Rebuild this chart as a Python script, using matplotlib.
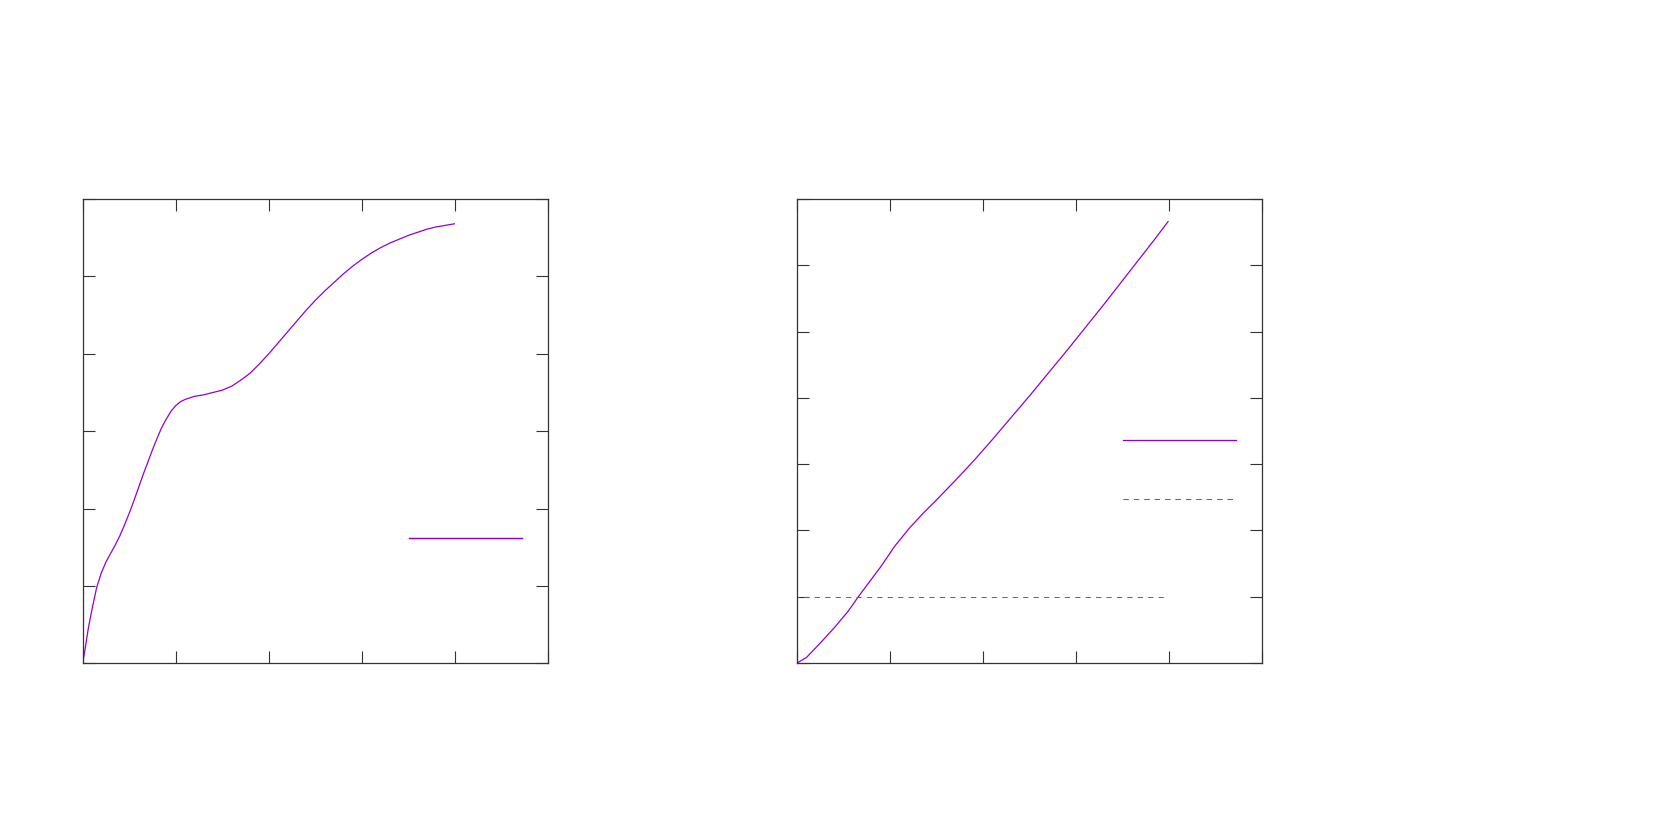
import numpy as np
from matplotlib import pyplot as plt

# ── Data ──────────────────────────────────────────────────────────────────────
# left panel: single curve
x_left = [0.0, 0.03, 0.06, 0.1, 0.15, 0.2, 0.25, 0.3, 0.35, 0.4, 0.45, 0.5,
          0.55, 0.6, 0.65, 0.7, 0.75, 0.8, 0.85, 0.9, 0.95, 1.0, 1.05, 1.1,
          1.15, 1.2, 1.3, 1.4, 1.5, 1.6, 1.7, 1.8, 1.9, 2.0, 2.1, 2.2, 2.3,
          2.4, 2.5, 2.6, 2.7, 2.8, 2.9, 3.0, 3.1, 3.2, 3.3, 3.4, 3.5, 3.6,
          3.7, 3.8, 3.9, 3.996]
y_left = [0.0, 0.22, 0.45, 0.70, 0.98, 1.17, 1.31, 1.42, 1.53, 1.65, 1.79, 1.94,
          2.10, 2.27, 2.44, 2.60, 2.76, 2.91, 3.05, 3.16, 3.26, 3.33, 3.38, 3.41,
          3.43, 3.45, 3.47, 3.50, 3.53, 3.58, 3.66, 3.75, 3.87, 4.00, 4.14, 4.28, 4.42,
          4.56, 4.69, 4.81, 4.92, 5.03, 5.13, 5.22, 5.30, 5.37, 5.43, 5.48, 5.53, 5.57,
          5.61, 5.64, 5.66, 5.68]

# right panel: curve + reference step
x_right = [0.0, 0.1, 0.25, 0.4, 0.55, 0.66, 0.75, 0.9, 1.05, 1.2, 1.35, 1.5,
           1.7, 1.9, 2.1, 2.3, 2.5, 2.7, 2.9, 3.1, 3.3, 3.5, 3.7, 3.85, 3.99]
y_right = [0.0, 0.08, 0.30, 0.53, 0.78, 1.00, 1.17, 1.45, 1.76, 2.02, 2.25, 2.46,
           2.75, 3.05, 3.37, 3.70, 4.03, 4.37, 4.71, 5.06, 5.41, 5.77, 6.13, 6.40, 6.66]
x_ref = [0.0, 0.0, 3.95]
y_ref = [0.0, 1.0, 1.0]

xticks_left = [0, 1, 2, 3, 4, 5]
yticks_left = [0, 1, 2, 3, 4, 5, 6]
xticks_right = [0, 1, 2, 3, 4, 5]
yticks_right = [0, 1, 2, 3, 4, 5, 6, 7]

PURPLE = "#9400d3"
GREEN = "#009e73"
LW = 0.9

# ── Figure ────────────────────────────────────────────────────────────────────
fig = plt.figure(figsize=(16.61, 8.30), dpi=100)
ax1 = fig.add_axes([0.0498, 0.2008, 0.2800, 0.5594])
ax2 = fig.add_axes([0.4798, 0.2012, 0.2800, 0.5590])


def style(ax, xt, yt):
    ax.set_xlim(xt[0], xt[-1])
    ax.set_ylim(yt[0], yt[-1])
    ax.set_xticks(xt)
    ax.set_yticks(yt)
    ax.tick_params(which="both", direction="in", top=True, right=True,
                   labelbottom=False, labelleft=False,
                   length=8.6, width=0.8, color="#333333")
    for s in ax.spines.values():
        s.set_linewidth(0.9)
        s.set_color("#333333")


def key(ax, line, x, y):
    leg = ax.legend([line], [""], loc="center left", bbox_to_anchor=(x, y),
                    frameon=False, borderpad=0, borderaxespad=0,
                    handletextpad=0, handlelength=8.14, fontsize=10)
    ax.add_artist(leg)


# left
l1, = ax1.plot(x_left, y_left, color=PURPLE, lw=LW)
style(ax1, xticks_left, yticks_left)
key(ax1, l1, 0.702, 0.269)

# right
l2, = ax2.plot(x_right, y_right, color=PURPLE, lw=LW)
l3, = ax2.plot(x_ref, y_ref, color=GREEN, lw=0.75, linestyle=(0, (5, 5)))
style(ax2, xticks_right, yticks_right)
key(ax2, l2, 0.700, 0.479)
key(ax2, l3, 0.700, 0.351)

plt.savefig("out.png", dpi=100, facecolor="white")
